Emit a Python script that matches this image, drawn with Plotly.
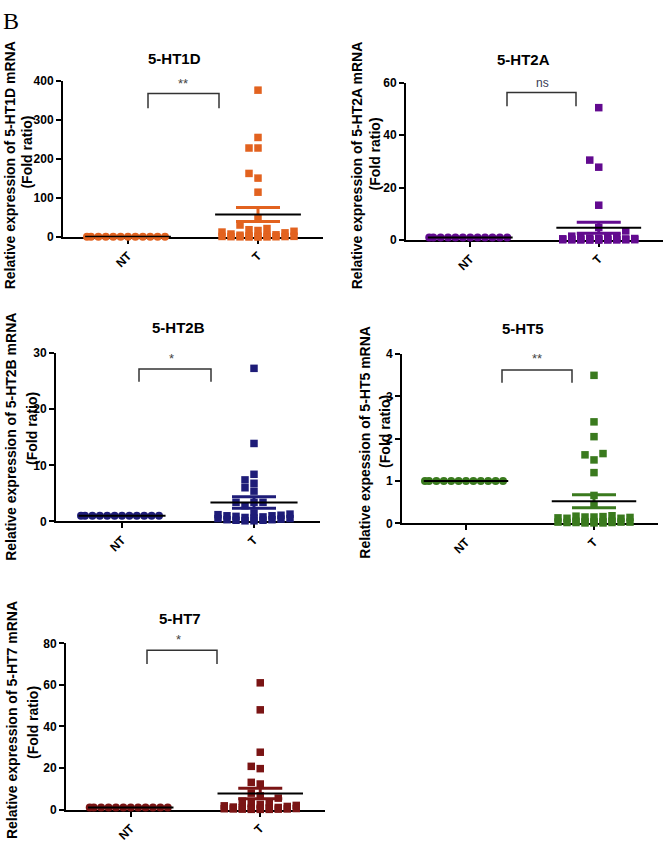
import numpy as np
import plotly.graph_objects as go

FW, FH = 667, 850

# ---------------- data ----------------
groups = ["NT", "T"]
titles = ["5-HT1D", "5-HT2A", "5-HT2B", "5-HT5", "5-HT7"]
ylabels = [
    "Relative expression of 5-HT1D mRNA",
    "Relative expression of 5-HT2A mRNA",
    "Relative expression of 5-HT2B mRNA",
    "Relative expession of 5-HT5 mRNA",
    "Relative expression of 5-HT7 mRNA",
]
ylabel2 = "(Fold ratio)"
sig_labels = ["**", "ns", "*", "**", "*"]

ticks_1d = [0, 100, 200, 300, 400]
ticks_2a = [0, 20, 40, 60]
ticks_2b = [0, 10, 20, 30]
ticks_5 = [0, 1, 2, 3, 4]
ticks_7 = [0, 20, 40, 60, 80]

nt_1d = [1, 1, 1, 1, 1, 1, 1, 1, 1, 1, 1, 1]
t_1d = [376, 255, 228, 228, 163, 151, 115, 48, 31, 22, 19, 17, 15, 13, 11,
        8, 6, 5, 4, 3, 2.5, 2, 1.8, 1.5, 1.2, 1.0, 0.8, 0.6, 0.4, 0.2]

nt_2a = [1, 1, 1, 1, 1, 1, 1, 1, 1, 1, 1, 1]
t_2a = [50.5, 30.5, 27.8, 13.3, 4.8, 3.5, 1.5, 1.2, 1.0, 0.9, 0.8, 0.7, 0.6,
        0.5, 0.45, 0.4, 0.35, 0.3, 0.25, 0.2, 0.18, 0.15, 0.12, 0.1, 0.08,
        0.06, 0.05, 0.04, 0.03, 0.02]

nt_2b = [1, 1, 1, 1, 1, 1, 1, 1, 1, 1, 1, 1]
t_2b = [27.3, 13.9, 8.4, 7.4, 6.8, 6.0, 5.4, 3.4, 3.4, 3.4, 2.8, 1.5, 1.3,
        1.2, 1.1, 1.0, 1.0, 0.9, 0.8, 0.7, 0.6, 0.5, 0.5, 0.4, 0.3, 0.3, 0.2,
        0.2, 0.1, 0.1]

nt_5 = [1, 1, 1, 1, 1, 1, 1, 1, 1, 1, 1, 1]
t_5 = [3.5, 2.4, 2.05, 1.65, 1.62, 1.5, 1.2, 0.66, 0.43, 0.18, 0.17, 0.16,
       0.15, 0.15, 0.14, 0.13, 0.12, 0.12, 0.05, 0.05, 0.04, 0.04, 0.04,
       0.03, 0.03, 0.03, 0.02, 0.02, 0.02, 0.01, 0.01, 0.01]

nt_7 = [1, 1, 1, 1, 1, 1, 1, 1, 1, 1, 1, 1]
t_7 = [61.0, 48.0, 27.6, 20.8, 19.7, 13.1, 12.3, 7.9, 6.6, 5.5, 4.0, 3.5,
       3.0, 2.5, 2.0, 1.8, 1.5, 1.2, 1.0, 0.9, 0.8, 0.7, 0.6, 0.5, 0.4, 0.3,
       0.3, 0.2, 0.2, 0.1, 0.1, 0.1]

nt_sets = [nt_1d, nt_2a, nt_2b, nt_5, nt_7]
t_sets = [t_1d, t_2a, t_2b, t_5, t_7]
tick_sets = [ticks_1d, ticks_2a, ticks_2b, ticks_5, ticks_7]

# ---------------- styling / layout (pixels) ----------------
colors = ["#E2621F", "#620A8F", "#1E1C78", "#3A7A1E", "#7A1414"]
# axis left, axis right, y of top tick, y of zero
boxes = [(63, 323, 75, 234), (406, 663, 77, 237), (56, 320, 352, 523),
         (402, 658, 353, 525), (66, 325, 647, 816)]
# bracket: x left, x right, y top, y leg end, label x, label y
brackets = [(148, 219, 88, 103, 183, 78), (507, 576, 87, 101, 542, 77),
            (139, 211, 368, 381, 171, 357), (502, 572, 369, 382, 537, 357),
            (147, 217, 654, 668, 178, 643)]
title_pos = [(175, 52), (523, 53), (178, 326), (523, 327), (180, 622)]
# (line1 x, line1 y-centre, line2 x, line2 y-centre)
ylabel_pos = [(10, 161, 27, 147), (357, 161, 375, 150), (11, 437, 32, 429),
              (365, 443, 385, 432), (12, 725, 33, 728)]

FONT = "Liberation Sans, Arial, sans-serif"
MS_T = 7.5
MS_NT = 8


def px(x):
    return x / FW


def py(y):
    return 1 - y / FH


def swarm_offsets(values, ypx_unit, xpx_unit, size, step, half):
    yp = np.asarray(values, float) * ypx_unit
    order = np.argsort(yp, kind="stable")
    grid = [0.0]
    k = 1
    while k * step <= half + 1e-9:
        grid += [-k * step, k * step]
        k += 1
    fine = sorted(set([round(v, 4) for v in np.arange(-half, half + 1e-9, step / 2.0)] + grid),
                  key=lambda c: (abs(c), c))
    placed = []
    offs = np.zeros(len(yp))
    for i in order:
        chosen = None
        for c in grid:
            if all(not (abs(c - qx) < step * 0.999 and abs(yp[i] - qy) < size * 0.999)
                   for qx, qy in placed):
                chosen = c
                break
        if chosen is None:
            best = None
            for c in fine:
                ov = sum(max(0.0, step - abs(c - qx)) * max(0.0, size - abs(yp[i] - qy))
                         for qx, qy in placed)
                if best is None or ov < best - 1e-9:
                    best, chosen = ov, c
        placed.append((chosen, yp[i]))
        offs[i] = chosen / xpx_unit
    return offs


fig = go.Figure()
annotations = []
layout_axes = {}

for i in range(5):
    axL, axR, ytop, y0 = boxes[i]
    ymax = tick_sets[i][-1]
    col = colors[i]
    xn = "x" if i == 0 else f"x{i+1}"
    yn = "y" if i == 0 else f"y{i+1}"
    xpx_unit = (axR - axL) / 2.0
    ypx_unit = (y0 - ytop) / ymax

    def to_data(sx, sy):
        return (-0.5 + (sx - axL) / xpx_unit, (y0 - sy) / ypx_unit)

    nt = np.asarray(nt_sets[i], float)
    t = np.asarray(t_sets[i], float)

    off_nt = swarm_offsets(nt, ypx_unit, xpx_unit, MS_NT, 7.4, 41)
    off_t = swarm_offsets(t, ypx_unit, xpx_unit, MS_T, 9.0, 36)

    fig.add_trace(go.Scatter(x=0 + off_nt, y=nt, mode="markers", xaxis=xn, yaxis=yn,
                             marker=dict(symbol="circle", size=MS_NT, color=col, line=dict(width=0)),
                             cliponaxis=False, showlegend=False, hoverinfo="skip"))
    fig.add_trace(go.Scatter(x=1 + off_t, y=t, mode="markers", xaxis=xn, yaxis=yn,
                             marker=dict(symbol="square", size=MS_T, color=col, line=dict(width=0)),
                             cliponaxis=False, showlegend=False, hoverinfo="skip"))

    means = [nt.mean(), t.mean()]
    sems = [nt.std(ddof=1) / np.sqrt(len(nt)), t.std(ddof=1) / np.sqrt(len(t))]
    for g in range(2):
        if sems[g] > 0:
            fig.add_trace(go.Scatter(x=[g], y=[means[g]], mode="markers", xaxis=xn, yaxis=yn,
                                     marker=dict(size=1, color="rgba(0,0,0,0)"),
                                     error_y=dict(type="data", array=[sems[g]], visible=True,
                                                  color=col, thickness=3, width=22),
                                     cliponaxis=False, showlegend=False, hoverinfo="skip"))
    mx, my = [], []
    for g in range(2):
        mx += [g - 0.33, g + 0.33, None]
        my += [means[g], means[g], None]
    fig.add_trace(go.Scatter(x=mx, y=my, mode="lines", xaxis=xn, yaxis=yn,
                             line=dict(color="black", width=2),
                             cliponaxis=False, showlegend=False, hoverinfo="skip"))

    bxl, bxr, byt, byl, lx, ly = brackets[i]
    x1, yt = to_data(bxl, byt)
    x2, yl = to_data(bxr, byl)
    fig.add_trace(go.Scatter(x=[x1, x1, x2, x2], y=[yl, yt, yt, yl], mode="lines",
                             xaxis=xn, yaxis=yn, line=dict(color="#333333", width=1.5),
                             cliponaxis=False, showlegend=False, hoverinfo="skip"))
    is_ns = sig_labels[i] == "ns"
    annotations.append(dict(x=px(lx), y=py(ly), xref="paper", yref="paper", text=sig_labels[i],
                            showarrow=False, xanchor="center", yanchor="middle",
                            font=dict(family=FONT, size=12 if is_ns else 13,
                                      color="#3a3a55" if is_ns else "#444444")))

    tx, ty = title_pos[i]
    annotations.append(dict(x=px(tx), y=py(ty), xref="paper", yref="paper",
                            text=f"<b>{titles[i]}</b>", showarrow=False,
                            xanchor="center", yanchor="middle",
                            font=dict(family=FONT, size=15, color="black")))
    l1x, l1y, l2x, l2y = ylabel_pos[i]
    annotations.append(dict(x=px(l1x), y=py(l1y), xref="paper", yref="paper",
                            text=f"<b>{ylabels[i]}</b>", showarrow=False,
                            textangle=-90, xanchor="center", yanchor="middle",
                            font=dict(family=FONT, size=14, color="black")))
    annotations.append(dict(x=px(l2x), y=py(l2y), xref="paper", yref="paper",
                            text=f"<b>{ylabel2}</b>", showarrow=False,
                            textangle=-90, xanchor="center", yanchor="middle",
                            font=dict(family=FONT, size=14, color="black")))

    xkey = "xaxis" if i == 0 else f"xaxis{i+1}"
    ykey = "yaxis" if i == 0 else f"yaxis{i+1}"
    layout_axes[xkey] = dict(domain=[px(axL), px(axR)], anchor=yn, range=[-0.5, 1.5],
                             tickvals=[0, 1], ticktext=groups, tickangle=-45,
                             showline=True, linecolor="black", linewidth=2,
                             ticks="outside", ticklen=5, tickwidth=2, tickcolor="black",
                             showgrid=False, zeroline=False, layer="below traces",
                             tickfont=dict(family=FONT, size=12, color="black", weight="bold"))
    layout_axes[ykey] = dict(domain=[py(y0), py(ytop)], anchor=xn, range=[0, ymax],
                             tickvals=tick_sets[i], ticktext=[str(v) for v in tick_sets[i]],
                             showline=True, linecolor="black", linewidth=2,
                             ticks="outside", ticklen=5, tickwidth=2, tickcolor="black",
                             showgrid=False, zeroline=False, layer="below traces",
                             tickfont=dict(family=FONT, size=12, color="black", weight="bold"))

annotations.append(dict(x=px(11), y=py(14), xref="paper", yref="paper", text="B", showarrow=False,
                        xanchor="center", yanchor="middle",
                        font=dict(family="Liberation Serif, Times New Roman, serif", size=24, color="black")))

fig.update_layout(width=FW, height=FH, margin=dict(l=0, r=0, t=0, b=0),
                  paper_bgcolor="white", plot_bgcolor="white",
                  annotations=annotations, showlegend=False, **layout_axes)

fig.write_html("out.html", config={"displayModeBar": False},
               post_script="document.body.style.margin='0px';")
